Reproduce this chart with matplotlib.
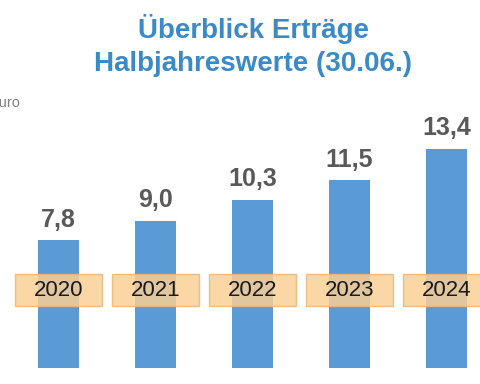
import matplotlib
matplotlib.use("Agg")
import matplotlib.pyplot as plt
from matplotlib.patches import FancyBboxPatch
import matplotlib.transforms as mtransforms

plt.rcParams['font.family'] = ['Liberation Sans', 'DejaVu Sans']

# Data
years = ["2020", "2021", "2022", "2023", "2024"]
values = [7.8, 9.0, 10.3, 11.5, 13.4]
value_labels = ["7,8", "9,0", "10,3", "11,5", "13,4"]

BAR_COLOR = "#5B9BD5"
TITLE_COLOR = "#3A8AC8"
LABEL_COLOR = "#595959"

fig = plt.figure(figsize=(4.8, 3.84), dpi=100)
ax = fig.add_axes([0, 0, 1, 1])

x = list(range(len(years)))
ax.bar(x, values, width=0.42, color=BAR_COLOR, zorder=1)

# axis limits chosen so the layout matches the slide
ax.set_xlim(-0.603, 4.345)
ax.set_ylim(-0.98, 22.5)
ax.axis("off")

# value labels above bars
for xi, v, lab in zip(x, values, value_labels):
    ax.annotate(lab, (xi, v), xytext=(0, 6), textcoords="offset points",
                ha="center", va="bottom", fontsize=18, fontweight="bold",
                color=LABEL_COLOR)

# year boxes across the bars
trans = mtransforms.blended_transform_factory(ax.transData, ax.transAxes)
box_w = 0.9
for xi, yr in zip(x, years):
    box = FancyBboxPatch((xi - box_w / 2, 0.204), box_w, 0.083,
                         boxstyle="square,pad=0", transform=trans,
                         facecolor="#FAD096", edgecolor="#EDB677",
                         linewidth=1.0, alpha=0.85, zorder=2)
    ax.add_patch(box)
    ax.text(xi, 0.243, yr, transform=trans, ha="center", va="center",
            fontsize=16, color="#1A1A1A", zorder=3)

# title
fig.text(0.528, 0.90, "Überblick Erträge", ha="center", va="baseline",
         fontsize=20, fontweight="bold", color=TITLE_COLOR)
fig.text(0.528, 0.815, "Halbjahreswerte (30.06.)", ha="center", va="baseline",
         fontsize=20, fontweight="bold", color=TITLE_COLOR)

# unit label (cut off at left edge in the original)
fig.text(20 / 480, 1 - 107 / 384, "Mio. Euro", ha="right", va="baseline",
         fontsize=10.5, color="#808080")

fig.savefig("out.png", dpi=100)
